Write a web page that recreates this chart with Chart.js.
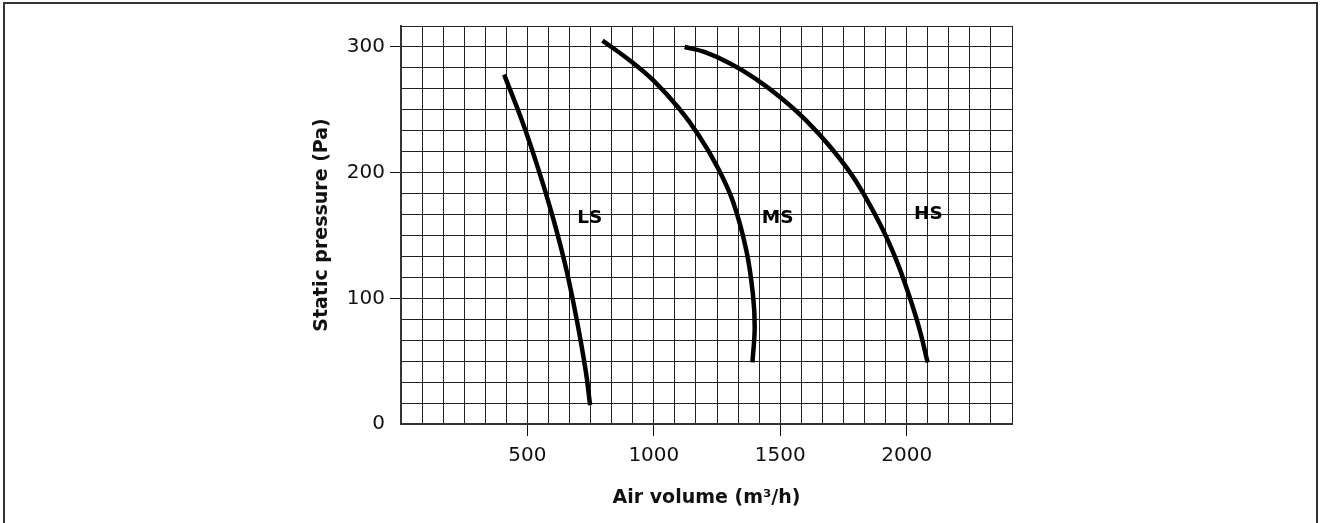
<!DOCTYPE html>
<html>
<head>
<meta charset="utf-8">
<script src="https://cdn.jsdelivr.net/npm/chart.js@4.4.1/dist/chart.umd.min.js"></script>
<style>
  html, body { margin: 0; padding: 0; background: #fff; overflow: hidden; }
  #wrap { position: relative; width: 1320px; height: 523px; }
  #frame { position: absolute; left: 3px; top: 2px; width: 1311px; height: 540px;
           border-left: 2px solid #333; border-top: 2px solid #333; border-right: 2px solid #333;
           pointer-events: none; }
  canvas { position: absolute; left: 0; top: 0; }
</style>
</head>
<body>
<div id="wrap">
  <canvas id="c" width="1320" height="523"></canvas>
  <div id="frame"></div>
</div>
<script>
// ---- data ----
const lsX = [408, 479, 546, 604, 655, 696, 730, 748];
const lsY = [278, 241, 201, 162, 122, 82, 43, 15];
const msX = [797, 900, 1000, 1100, 1180, 1250, 1313, 1366, 1392, 1399, 1390];
const msY = [305, 290, 273, 251, 229, 205, 177, 138, 103, 77, 49];
const hsX = [1122, 1200, 1300, 1400, 1500, 1600, 1700, 1800, 1900, 1960, 2010, 2050, 2083];
const hsY = [300, 296, 287, 275, 260, 242, 220, 193, 157, 130, 102, 76, 49];

const seriesNames = ['LS', 'MS', 'HS'];
const labelX = [747, 1490, 2086];
const labelY = [164, 164, 167];

const xMax = 2416.6666666666665;   // 29 grid cells of 83.33
const xStep = 250 / 3;
const yMax = 950 / 3;              // 19 grid cells of 16.67
const yStep = 50 / 3;
const xLabelled = [500, 1000, 1500, 2000];
const yLabelled = [0, 100, 200, 300];
const yTicked = [100, 200, 300];

const xTitle = 'Air volume (m³/h)';
const yTitle = 'Static pressure (Pa)';

function pts(xs, ys) { return xs.map((x, i) => ({ x: x, y: ys[i] })); }
function near(v, list) { return list.some(t => Math.abs(t - v) < 1e-6); }

const FONT = '"DejaVu Sans", "Liberation Sans", Arial, sans-serif';

const lineStyle = {
  borderColor: '#000', borderWidth: 4.5, pointRadius: 0, showLine: true,
  tension: 0.4, fill: false, borderCapStyle: 'butt'
};

const curveLabels = {
  id: 'curveLabels',
  afterDatasetsDraw(chart) {
    const ctx = chart.ctx, xs = chart.scales.x, ys = chart.scales.y;
    ctx.save();
    ctx.font = 'bold 18.5px ' + FONT;
    ctx.fillStyle = '#000';
    ctx.textAlign = 'center';
    ctx.textBaseline = 'middle';
    seriesNames.forEach((n, i) => {
      ctx.fillText(n, xs.getPixelForValue(labelX[i]), ys.getPixelForValue(labelY[i]));
    });
    ctx.restore();
  }
};

new Chart(document.getElementById('c'), {
  type: 'scatter',
  data: {
    datasets: [
      Object.assign({ label: 'LS', data: pts(lsX, lsY) }, lineStyle),
      Object.assign({ label: 'MS', data: pts(msX, msY) }, lineStyle),
      Object.assign({ label: 'HS', data: pts(hsX, hsY) }, lineStyle)
    ]
  },
  options: {
    responsive: false,
    animation: false,
    layout: { padding: { left: 307, right: 308, top: 26, bottom: 10 } },
    plugins: { legend: { display: false }, tooltip: { enabled: false } },
    scales: {
      x: {
        type: 'linear', min: 0, max: xMax,
        afterBuildTicks(scale) {
          const t = [];
          for (let i = 0; i <= 29; i++) t.push({ value: i === 29 ? xMax : i * xStep });
          scale.ticks = t;
        },
        afterFit(scale) { scale.height = 89; },
        ticks: {
          autoSkip: false, maxRotation: 0, padding: 8, color: '#111',
          font: { family: FONT, size: 20 },
          callback(v) { return near(v, xLabelled) ? String(Math.round(v)) : ''; }
        },
        grid: {
          color: '#222', lineWidth: 1, tickLength: 12,
          tickColor(ctx) { return ctx.tick && near(ctx.tick.value, xLabelled) ? '#111' : 'rgba(0,0,0,0)'; }
        },
        border: { display: true, color: '#333', width: 2 },
        title: {
          display: true, text: xTitle, color: '#111',
          font: { family: FONT, size: 19, weight: 'bold' }
        }
      },
      y: {
        type: 'linear', min: 0, max: yMax,
        afterBuildTicks(scale) {
          const t = [];
          for (let i = 0; i <= 19; i++) t.push({ value: i === 19 ? yMax : i * yStep });
          scale.ticks = t;
        },
        afterFit(scale) { scale.width = 94; },
        ticks: {
          autoSkip: false, padding: 5, color: '#111',
          font: { family: FONT, size: 20 },
          callback(v) { return near(v, yLabelled) ? String(Math.round(v)) : ''; }
        },
        grid: {
          color: '#222', lineWidth: 1, tickLength: 11,
          tickColor(ctx) { return ctx.tick && near(ctx.tick.value, yTicked) ? '#111' : 'rgba(0,0,0,0)'; }
        },
        border: { display: true, color: '#333', width: 2 },
        title: {
          display: true, text: yTitle, color: '#111',
          font: { family: FONT, size: 19, weight: 'bold' }
        }
      }
    }
  },
  plugins: [curveLabels]
});
</script>
</body>
</html>
